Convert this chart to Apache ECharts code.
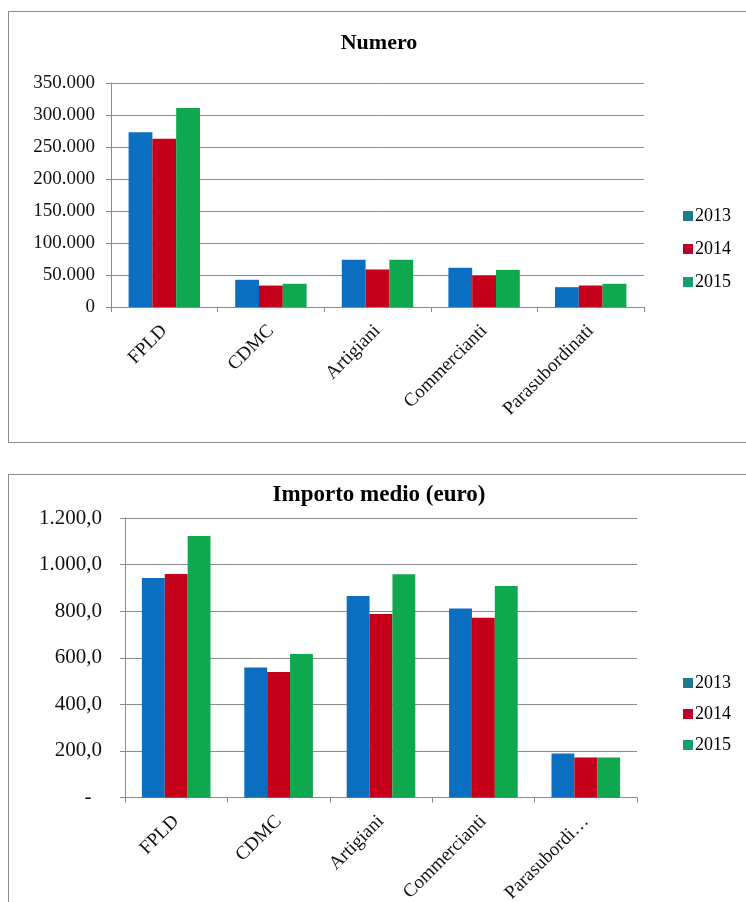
<!DOCTYPE html>
<html>
<head>
<meta charset="utf-8">
<script src="https://cdn.jsdelivr.net/npm/echarts@6/dist/echarts.min.js"></script>
<style>
  html, body { margin:0; padding:0; width:746px; height:902px; overflow:hidden; background:#fff; }
  .box { position:absolute; left:8px; width:740px; height:430px; border:1px solid #8c8c8c; background:#fff; }
  #c1 { top:11px; }
  #c2 { top:474px; }
</style>
</head>
<body>
<div id="c1" class="box"></div>
<div id="c2" class="box"></div>
<script>
const categories = ['FPLD', 'CDMC', 'Artigiani', 'Commercianti', 'Parasubordinati'];
const years = ['2013', '2014', '2015'];

const numero2013 = [273000, 42500, 73700, 61500, 31000];
const numero2014 = [263000, 33500, 58600, 49000, 33600];
const numero2015 = [311000, 36300, 73700, 58000, 36300];

const importo2013 = [942, 558, 865, 811, 189];
const importo2014 = [960, 539, 788, 772, 172];
const importo2015 = [1123, 616, 959, 908, 172];

const barColors = ['#0B6FC1', '#C4001A', '#0FA84E'];
const legendColors = ['#1F7B8C', '#C0002A', '#12A06E'];
const FONT = '"Liberation Serif", "Times New Roman", serif';

function fmtThousands(v) {
  return String(Math.round(v)).replace(/\B(?=(\d{3})+(?!\d))/g, '.');
}
function fmtImporto(v) {
  if (v === 0) return '-\u00a0\u00a0';
  const s = v.toFixed(1).split('.');
  return s[0].replace(/\B(?=(\d{3})+(?!\d))/g, '.') + ',' + s[1];
}

function makeOption(cfg) {
  return {
    animation: false,
    textStyle: { fontFamily: FONT },
    title: {
      text: cfg.title, left: 'center', top: cfg.titleTop,
      textStyle: { fontFamily: FONT, fontSize: cfg.titleSize, fontWeight: 'bold', color: '#000' }
    },
    legend: {
      orient: 'vertical', left: 669, top: cfg.legendTop,
      itemWidth: 10, itemHeight: 10, itemGap: cfg.legendGap, icon: 'rect',
      textStyle: { fontFamily: FONT, fontSize: 18, color: '#000', padding: [0, 0, 0, -3] },
      data: years.map((y, i) => ({ name: y, itemStyle: { color: legendColors[i] } }))
    },
    grid: cfg.grid,
    xAxis: {
      type: 'category', data: categories,
      axisLine: { lineStyle: { color: '#8a8a8a', width: 1 } },
      axisTick: { show: true, length: 5, lineStyle: { color: '#8a8a8a' }, alignWithLabel: false },
      axisLabel: {
        interval: 0, rotate: 45, margin: 21,
        fontFamily: FONT, fontSize: 19, color: '#111',
        formatter: cfg.xFormatter
      }
    },
    yAxis: {
      type: 'value', min: 0, max: cfg.max, interval: cfg.interval,
      axisLine: { show: true, lineStyle: { color: '#8a8a8a', width: 1 } },
      axisTick: { show: true, length: 5, lineStyle: { color: '#8a8a8a' } },
      splitLine: { lineStyle: { color: '#8a8a8a', width: 1 } },
      axisLabel: { fontFamily: FONT, fontSize: cfg.ySize, color: '#111', margin: cfg.yMargin, formatter: cfg.yFormatter }
    },
    series: cfg.data.map((d, i) => ({
      name: years[i], type: 'bar', data: d,
      barGap: '0%', barCategoryGap: '33%',
      itemStyle: { color: barColors[i] }
    }))
  };
}

const chart1 = echarts.init(document.getElementById('c1'), null, { renderer: 'canvas' });
chart1.setOption(makeOption({
  title: 'Numero', titleTop: 15, titleSize: 22,
  legendTop: 190, legendGap: 15,
  grid: { left: 102, top: 71, width: 533, height: 224 },
  max: 350000, interval: 50000,
  ySize: 19, yMargin: 16,
  yFormatter: fmtThousands,
  xFormatter: v => v,
  data: [numero2013, numero2014, numero2015]
}));

const chart2 = echarts.init(document.getElementById('c2'), null, { renderer: 'canvas' });
chart2.setOption(makeOption({
  title: 'Importo medio (euro)', titleTop: 4, titleSize: 23,
  legendTop: 194, legendGap: 13,
  grid: { left: 116, top: 43, width: 512, height: 281 },
  max: 1200, interval: 200,
  ySize: 21, yMargin: 23,
  yFormatter: fmtImporto,
  xFormatter: v => (v.length > 12 ? v.slice(0, 11) + '…' : v),
  data: [importo2013, importo2014, importo2015]
}));
</script>
</body>
</html>
